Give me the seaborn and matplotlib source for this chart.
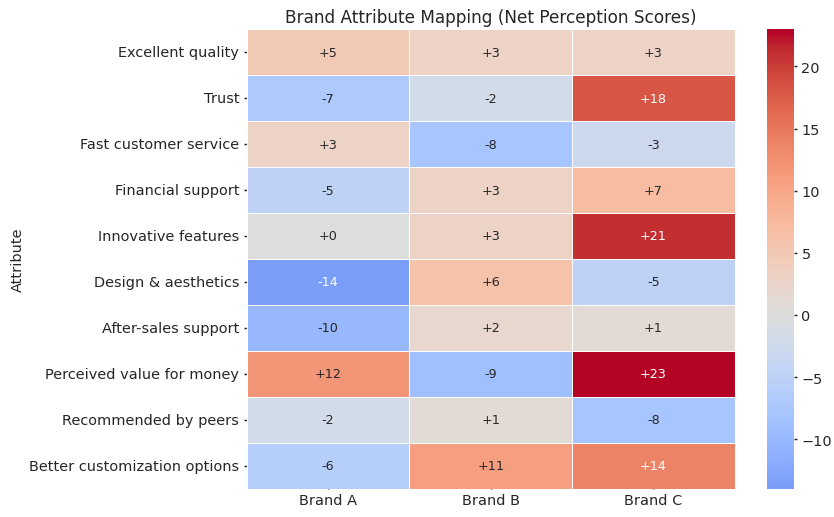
import pandas as pd
import seaborn as sns
from matplotlib import pyplot as plt

attributes = ["Excellent quality", "Trust", "Fast customer service",
              "Financial support", "Innovative features", "Design & aesthetics",
              "After-sales support", "Perceived value for money",
              "Recommended by peers", "Better customization options"]
brands = ["Brand A", "Brand B", "Brand C"]
brand_a = [5, -7, 3, -5, 0, -14, -10, 12, -2, -6]
brand_b = [3, -2, -8, 3, 3, 6, 2, -9, 1, 11]
brand_c = [3, 18, -3, 7, 21, -5, 1, 23, -8, 14]

df = pd.DataFrame({"Brand A": brand_a, "Brand B": brand_b, "Brand C": brand_c},
                  index=attributes)
df.index.name = "Attribute"

sns.set_theme(style="ticks", rc={"xtick.major.size": 3, "ytick.major.size": 3})

fig = plt.figure(figsize=(10, 6.21), dpi=83.4)
ax = fig.add_axes([0.296, 0.054, 0.585, 0.888])
cax = fig.add_axes([0.92, 0.054, 0.032, 0.888])

sns.heatmap(df, annot=True, fmt="+d", cmap="coolwarm", center=0,
            linewidths=0.6, linecolor="white", ax=ax, cbar_ax=cax,
            annot_kws={"size": 11})
ax.set_title("Brand Attribute Mapping (Net Perception Scores)", fontsize=14.6)
ax.set_xlabel("")
ax.set_ylabel("Attribute", fontsize=12.5)
ax.tick_params(labelsize=12.5)
ax.tick_params(axis="x", direction="in")
cax.tick_params(labelsize=12.5)

fig.savefig("out.png", dpi=83.4)
